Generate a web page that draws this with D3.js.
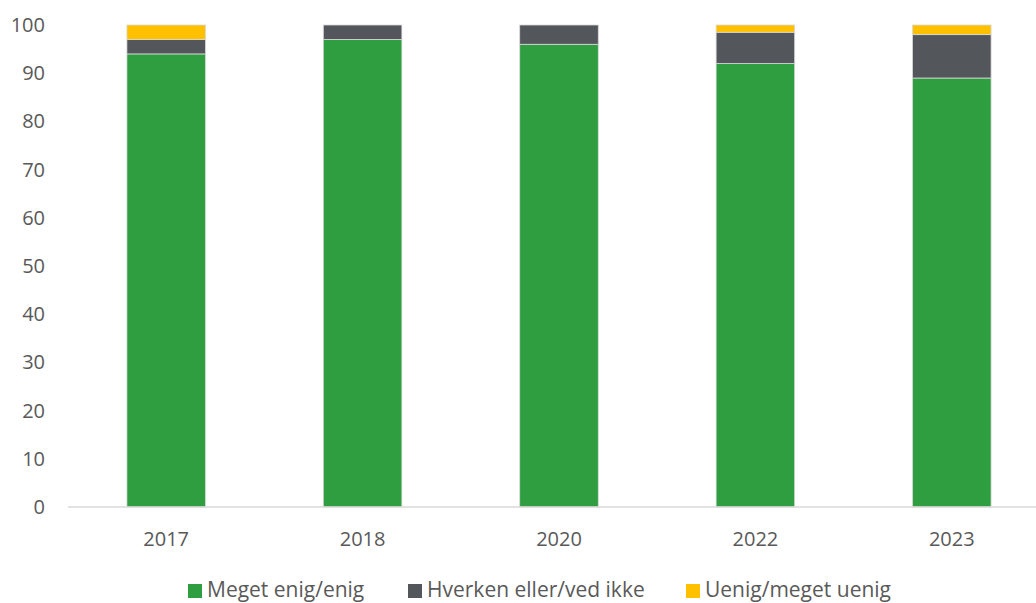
<!DOCTYPE html>
<html>
<head>
<meta charset="utf-8">
<script src="https://cdn.jsdelivr.net/npm/d3@7"></script>
<style>
  body { margin: 0; background: #fff; }
  text { font-family: "Open Sans", Lato, sans-serif; fill: #595959; }
</style>
</head>
<body>
<svg id="chart"></svg>
<script>
var years = ["2017", "2018", "2020", "2022", "2023"];
var seriesNames = ["Meget enig/enig", "Hverken eller/ved ikke", "Uenig/meget uenig"];
var enig = [94, 97, 96, 92, 89];
var hverken = [3, 3, 4, 6.5, 9];
var uenig = [3, 0, 0, 1.5, 2];
var yTicks = [0, 10, 20, 30, 40, 50, 60, 70, 80, 90, 100];
var colors = ["#2e9e40", "#53565a", "#ffc000"];

var width = 1036, height = 603;
var mLeft = 68, mRight = 1050, mTop = 25, mBottom = 507;

var rows = years.map(function(y, i) {
  return { year: y, a: enig[i], b: hverken[i], c: uenig[i] };
});

var svg = d3.select("#chart")
  .attr("width", width)
  .attr("height", height);

var x = d3.scaleBand()
  .domain(years)
  .range([mLeft, mRight])
  .paddingInner(0.6)
  .paddingOuter(0.3);

var yScale = d3.scaleLinear()
  .domain([0, 100])
  .range([mBottom, mTop]);

var layers = d3.stack().keys(["a", "b", "c"])(rows);

svg.append("g").selectAll("g.layer")
  .data(layers)
  .enter().append("g")
  .attr("class", "layer")
  .attr("fill", function(d, i) { return colors[i]; })
  .selectAll("rect")
  .data(function(d) { return d.filter(function(s) { return s[1] - s[0] > 0; }); })
  .enter().append("rect")
  .attr("x", function(d) { return x(d.data.year); })
  .attr("width", x.bandwidth())
  .attr("y", function(d) { return yScale(d[1]); })
  .attr("height", function(d) { return yScale(d[0]) - yScale(d[1]); })
  .attr("stroke", "#d9d9d9")
  .attr("stroke-width", 0.8);

// baseline
svg.append("line")
  .attr("x1", mLeft)
  .attr("x2", width)
  .attr("y1", yScale(0))
  .attr("y2", yScale(0))
  .attr("stroke", "#d9d9d9")
  .attr("stroke-width", 1.5);

// y axis labels
svg.selectAll("text.ytick")
  .data(yTicks)
  .enter().append("text")
  .attr("class", "ytick")
  .attr("x", 45)
  .attr("y", function(d) { return yScale(d); })
  .attr("dy", ".35em")
  .attr("text-anchor", "end")
  .style("font-size", "20px")
  .text(function(d) { return d; });

// x axis labels
svg.selectAll("text.xtick")
  .data(years)
  .enter().append("text")
  .attr("class", "xtick")
  .attr("x", function(d) { return x(d) + x.bandwidth() / 2; })
  .attr("y", 539)
  .attr("dy", ".35em")
  .attr("text-anchor", "middle")
  .style("font-size", "20px")
  .text(function(d) { return d; });

// legend
var legendX = [188, 408, 686];
var legend = svg.selectAll("g.legend")
  .data(seriesNames)
  .enter().append("g")
  .attr("class", "legend")
  .attr("transform", function(d, i) { return "translate(" + legendX[i] + ",590)"; });

legend.append("rect")
  .attr("x", 0)
  .attr("y", -6)
  .attr("width", 14)
  .attr("height", 14)
  .attr("fill", function(d, i) { return colors[i]; });

legend.append("text")
  .attr("x", 19)
  .attr("y", 0)
  .attr("dy", ".35em")
  .style("font-size", "21px")
  .text(function(d) { return d; });
</script>
</body>
</html>
